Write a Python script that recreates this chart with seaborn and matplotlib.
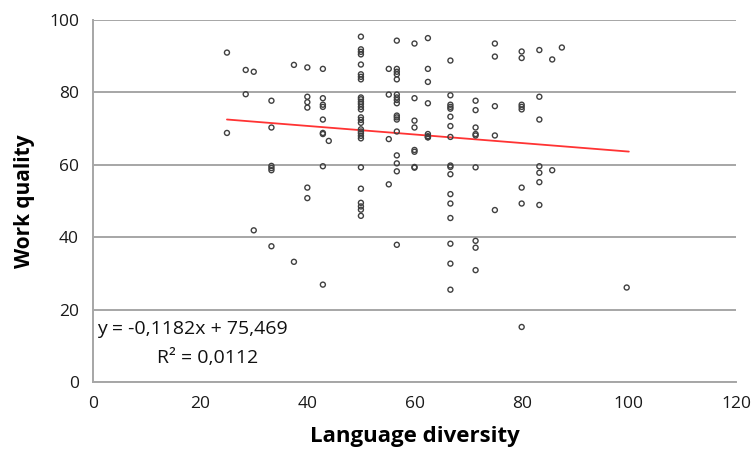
import matplotlib
matplotlib.use("Agg")
import matplotlib.pyplot as plt
import seaborn as sns
import numpy as np
import pandas as pd

# Data
x_25 = [25, 25]
y_25 = [91.0, 68.8]
x_28 = [28.5, 28.5]
y_28 = [86.2, 79.5]
x_30 = [30, 30]
y_30 = [85.7, 41.9]
x_33 = [33.3] * 6
y_33 = [77.7, 70.3, 59.7, 59.1, 58.5, 37.5]
x_37 = [37.5, 37.5]
y_37 = [87.6, 33.2]
x_40 = [40] * 6
y_40 = [86.9, 78.8, 77.3, 75.8, 53.7, 50.8]
x_43 = [42.9] * 9
y_43 = [86.5, 78.4, 76.6, 76.0, 72.5, 68.8, 68.5, 59.6, 26.9]
x_44 = [44]
y_44 = [66.6]
x_50 = [50] * 26
y_50 = [95.4, 91.9, 91.2, 90.5, 87.7, 85.0, 84.3, 83.6, 78.6, 78.1, 77.4,
        76.8, 76.0, 75.3, 73.1, 72.4, 71.6, 69.8, 69.2, 68.7, 68.0, 67.3,
        59.3, 53.4, 49.5, 48.5]
x_50b = [50, 50]
y_50b = [47.6, 45.9]
x_55 = [55.2] * 4
y_55 = [86.5, 79.4, 67.1, 54.6]
x_57 = [56.7] * 17
y_57 = [94.3, 86.5, 85.7, 85.0, 83.6, 79.4, 78.6, 77.9, 77.0, 73.6, 73.1,
        72.5, 69.2, 62.6, 60.4, 58.2, 37.9]
x_60 = [60] * 8
y_60 = [93.5, 78.4, 72.2, 70.3, 64.1, 63.6, 59.4, 59.2]
x_62 = [62.5] * 8
y_62 = [95.0, 86.5, 82.9, 77.0, 68.5, 67.9, 67.6, 67.6]
x_67 = [66.7] * 17
y_67 = [88.8, 79.2, 76.6, 76.0, 75.5, 73.3, 70.7, 67.7, 59.8, 59.4, 57.4,
        51.9, 49.3, 45.3, 38.2, 32.7, 25.5]
x_71 = [71.4] * 8
y_71 = [77.7, 75.1, 70.3, 68.5, 68.1, 59.3, 39.0, 37.1]
x_71b = [71.4]
y_71b = [30.9]
x_75 = [75] * 5
y_75 = [93.5, 89.9, 76.2, 68.1, 47.5]
x_80 = [80] * 8
y_80 = [91.3, 89.5, 76.6, 76.0, 75.3, 53.7, 49.3, 15.2]
x_83 = [83.3] * 7
y_83 = [91.7, 78.8, 72.5, 59.6, 57.8, 55.2, 48.9]
x_86 = [85.7, 85.7]
y_86 = [89.1, 58.5]
x_87 = [87.5]
y_87 = [92.4]
x_100 = [99.6]
y_100 = [26.1]

xs = (x_25 + x_28 + x_30 + x_33 + x_37 + x_40 + x_43 + x_44 + x_50 + x_50b +
      x_55 + x_57 + x_60 + x_62 + x_67 + x_71 + x_71b + x_75 + x_80 + x_83 +
      x_86 + x_87 + x_100)
ys = (y_25 + y_28 + y_30 + y_33 + y_37 + y_40 + y_43 + y_44 + y_50 + y_50b +
      y_55 + y_57 + y_60 + y_62 + y_67 + y_71 + y_71b + y_75 + y_80 + y_83 +
      y_86 + y_87 + y_100)

slope = -0.1182
intercept = 75.469
trend_x = [25, 100]
equation_text = "y = -0,1182x + 75,469"
r2_text = "R² = 0,0112"

x_ticks = [0, 20, 40, 60, 80, 100, 120]
y_ticks = [0, 20, 40, 60, 80, 100]

df = pd.DataFrame({"Language diversity": xs, "Work quality": ys})
trend = pd.DataFrame({"x": trend_x, "y": [slope * v + intercept for v in trend_x]})

sns.set_style("white")
plt.rcParams['font.family'] = ['Open Sans', 'DejaVu Sans']

fig = plt.figure(figsize=(7.51, 4.59), dpi=100)
ax = fig.add_axes([93 / 751, 1 - 382 / 459, (736 - 93) / 751, (382 - 20) / 459])

sns.scatterplot(data=df, x="Language diversity", y="Work quality", ax=ax,
                marker="o", s=13, facecolor="none", edgecolor="#404040",
                linewidth=1.0, zorder=3)
sns.lineplot(data=trend, x="x", y="y", ax=ax, color="#ff3333", linewidth=1.3,
             zorder=2)

ax.set_xlim(0, 120)
ax.set_ylim(0, 100)
ax.set_xticks(x_ticks)
ax.set_yticks(y_ticks)
ax.yaxis.grid(True, color="#a6a6a6", linewidth=1.4)
ax.set_axisbelow(True)
for s in ["top", "right"]:
    ax.spines[s].set_visible(False)
for s in ["left", "bottom"]:
    ax.spines[s].set_color("#a6a6a6")
    ax.spines[s].set_linewidth(1.4)
ax.tick_params(axis="both", which="both", direction="out", length=5,
               width=1.2, color="#a6a6a6", labelsize=12.5, labelcolor="#1a1a1a")
ax.tick_params(axis="y", pad=5)
ax.tick_params(axis="x", pad=5)

ax.set_xlabel("Language diversity", fontsize=16, fontweight="bold",
              color="#000000", labelpad=10)
ax.set_ylabel("Work quality", fontsize=15, fontweight="bold",
              color="#000000", labelpad=10)

ax.text(0.75, 14.6, equation_text, fontsize=14, va="center", ha="left",
        color="#111111")
ax.text(21.3, 6.6, r2_text, fontsize=14, va="center", ha="center",
        color="#111111")

fig.savefig("out.png", dpi=100)
